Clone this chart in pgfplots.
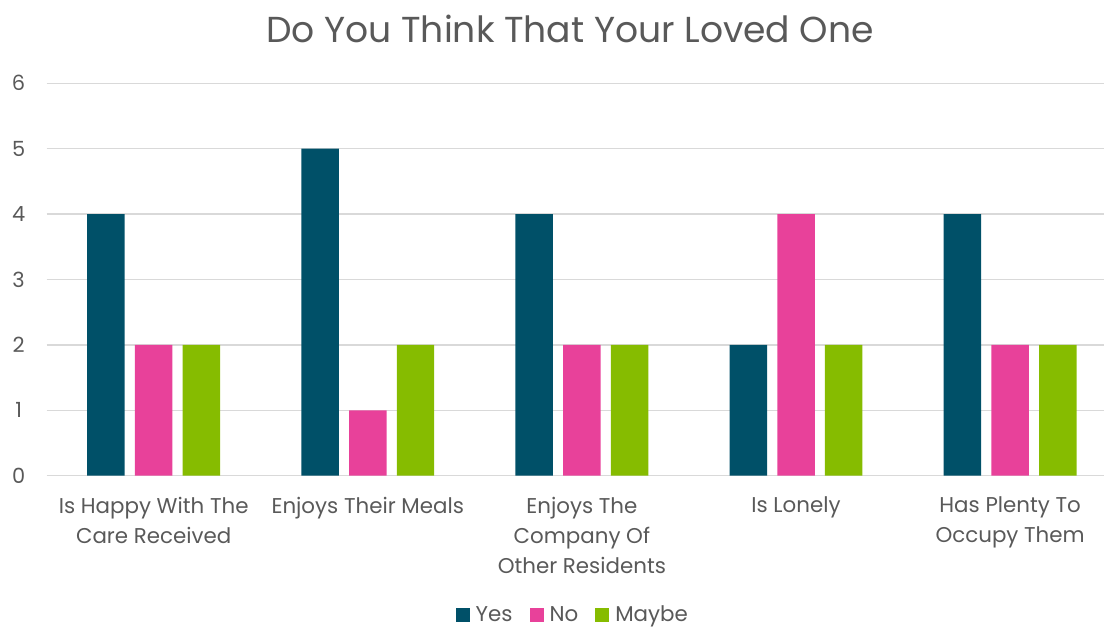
\documentclass[border=0pt]{standalone}
\usepackage{fontspec}
\setmainfont{Poppins}[Scale=0.95]
\usepackage{pgfplots}
\pgfplotsset{compat=1.18}
\definecolor{cyes}{HTML}{005068}
\definecolor{cno}{HTML}{E8419A}
\definecolor{cmay}{HTML}{86BC00}
\definecolor{ctxt}{HTML}{595959}
\definecolor{cgrid}{HTML}{D9D9D9}
\begin{document}
\begin{tikzpicture}[x=1bp,y=1bp]
\path[use as bounding box] (-46.6,-153.3) rectangle (1057.4,475.7);
\begin{axis}[
  at={(0,0)}, anchor=south west,
  scale only axis, width=1057.4bp, height=392.4bp,
  xmin=-0.5, xmax=4.4384, ymin=0, ymax=6,
  ytick={0,1,2,3,4,5,6},
  xtick={0,1,2,3,4},
  xticklabels={{Is Happy With The\\Care Received},{Enjoys Their Meals},{Enjoys The\\Company Of\\Other Residents},{Is Lonely},{Has Plenty To\\Occupy Them}},
  xticklabel style={align=center, font=\fontsize{22.5bp}{30bp}\selectfont, text=ctxt, yshift=-18bp},
  yticklabel style={font=\fontsize{22bp}{26bp}\selectfont, text=ctxt, anchor=center, xshift=-28bp},
  /pgf/number format/assume math mode=true,
  major tick length=0pt,
  axis line style={draw=none},
  ymajorgrids, grid style={cgrid, line width=1.5bp},
  ybar, bar width=0.175,
  legend style={at={(rel axis cs:0.4976,0)}, anchor=center, yshift=-139bp, draw=none,
    inner sep=1bp,
    font=\fontsize{22.5bp}{26bp}\selectfont, text=ctxt, legend columns=-1,
    /tikz/every odd column/.append style={column sep=4bp},
    /tikz/every even column/.append style={column sep=15bp}},
  legend image code/.code={\fill (0bp,-7bp) rectangle (14bp,7bp);},
]
\addplot[fill=cyes, draw=none, bar shift=-0.2228] coordinates {(0,4) (1,5) (2,4) (3,2) (4,4)};
\addplot[fill=cno, draw=none, bar shift=0] coordinates {(0,2) (1,1) (2,2) (3,4) (4,2)};
\addplot[fill=cmay, draw=none, bar shift=0.2228] coordinates {(0,2) (1,2) (2,2) (3,2) (4,2)};
\legend{Yes,No,Maybe}
\end{axis}
\node[text=ctxt, font=\fontsize{38bp}{42bp}\selectfont] at (523.4,446.7) {Do You Think That Your Loved One};
\end{tikzpicture}
\end{document}
